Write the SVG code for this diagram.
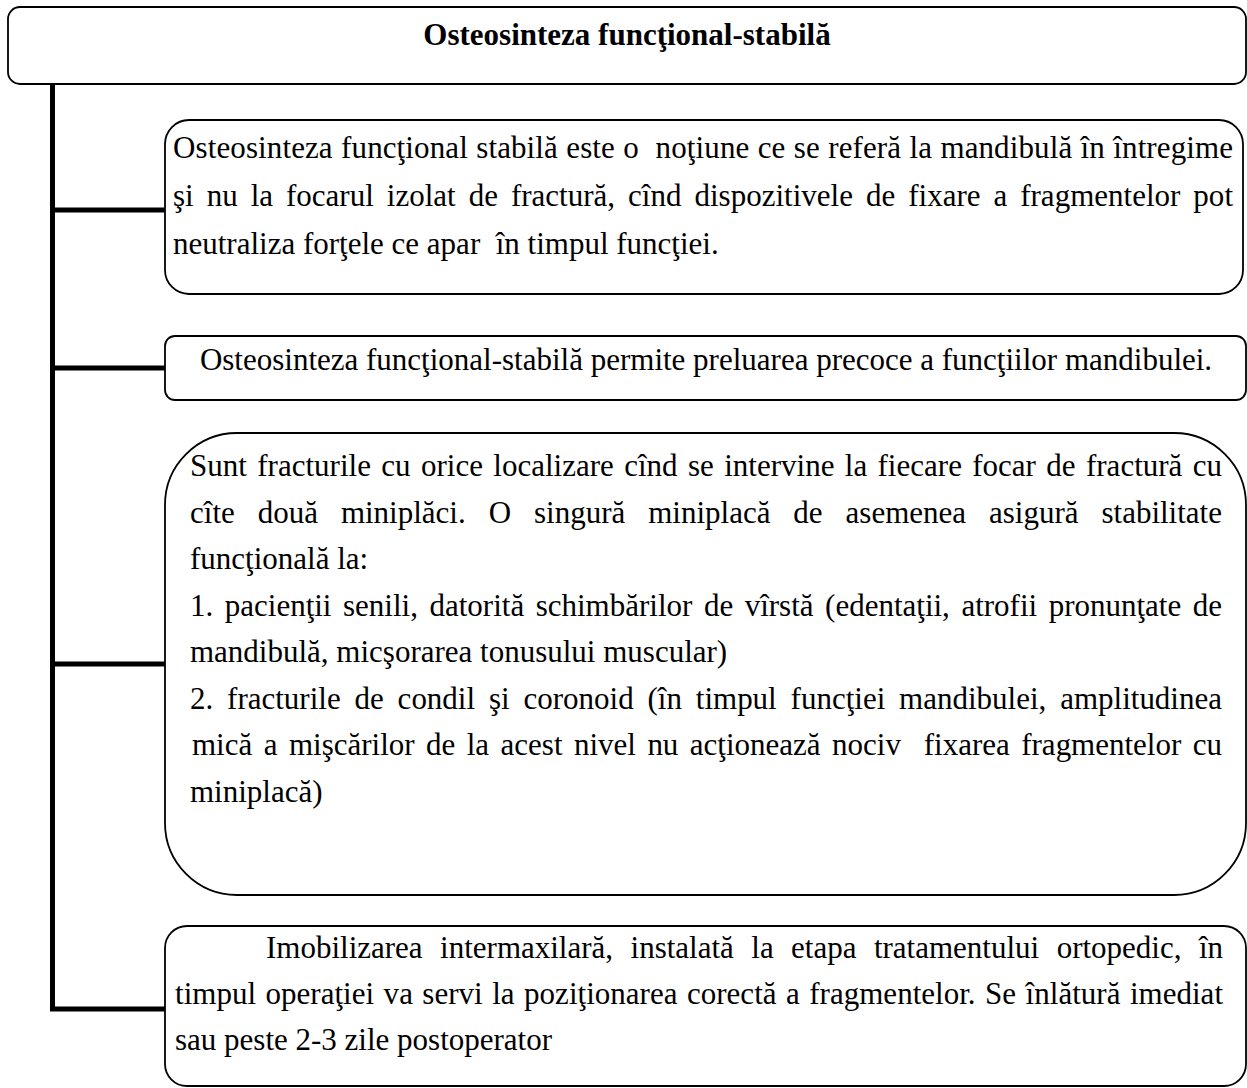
<svg xmlns="http://www.w3.org/2000/svg" width="1247" height="1088" viewBox="0 0 1247 1088">
<style>
.box{fill:#fff;stroke:#000;stroke-width:1.8}
.con{fill:none;stroke:#000;stroke-width:5;stroke-linejoin:miter;stroke-linecap:butt}
text{font-family:"Liberation Serif","Times New Roman",serif;font-size:31px;fill:#000}
.title{font-weight:bold;text-anchor:middle}
</style>
<rect width="1247" height="1088" fill="#fff"/>
<g id="connectors">
<path class="con" d="M52.5 84 V1009 H165"/>
<path class="con" d="M52.5 210 H165"/>
<path class="con" d="M52.5 368 H165"/>
<path class="con" d="M52.5 664 H165"/>
</g>
<g id="title">
<rect class="box" x="8" y="7" width="1238" height="77" rx="12"/>
<text class="title" x="627" y="45">Osteosinteza funcţional-stabilă</text>
</g>
<g id="node1">
<rect class="box" x="165" y="120" width="1078" height="174" rx="24"/>
<text xml:space="preserve" x="173" y="158" textLength="1060" lengthAdjust="spacing" word-spacing="0.5">Osteosinteza funcţional stabilă este o  noţiune ce se referă la mandibulă în întregime</text>
<text xml:space="preserve" x="173" y="206" textLength="1060" lengthAdjust="spacing" word-spacing="5.2">şi nu la focarul izolat de fractură, cînd dispozitivele de fixare a fragmentelor pot</text>
<text xml:space="preserve" x="173" y="254">neutraliza forţele ce apar  în timpul funcţiei.</text>
</g>
<g id="node2">
<rect class="box" x="165" y="336" width="1081" height="64" rx="10"/>
<text x="706" y="370" text-anchor="middle">Osteosinteza funcţional-stabilă permite preluarea precoce a funcţiilor mandibulei.</text>
</g>
<g id="node3">
<rect class="box" x="165" y="433" width="1081" height="462" rx="72"/>
<text xml:space="preserve" x="190" y="476" textLength="1032" lengthAdjust="spacing" word-spacing="2.6">Sunt fracturile cu orice localizare cînd se intervine la fiecare focar de fractură cu</text>
<text xml:space="preserve" x="190" y="522.5" textLength="1032" lengthAdjust="spacing" word-spacing="15.2">cîte două miniplăci. O singură miniplacă de asemenea asigură stabilitate</text>
<text xml:space="preserve" x="190" y="569">funcţională la:</text>
<text xml:space="preserve" x="190" y="615.5" textLength="1032" lengthAdjust="spacing" word-spacing="3.8">1. pacienţii senili, datorită schimbărilor de vîrstă (edentaţii, atrofii pronunţate de</text>
<text xml:space="preserve" x="190" y="662">mandibulă, micşorarea tonusului muscular)</text>
<text xml:space="preserve" x="190" y="708.5" textLength="1032" lengthAdjust="spacing" word-spacing="6.1">2. fracturile de condil şi coronoid (în timpul funcţiei mandibulei, amplitudinea</text>
<text xml:space="preserve" x="192" y="755" textLength="1030" lengthAdjust="spacing" word-spacing="3.7">mică a mişcărilor de la acest nivel nu acţionează nociv  fixarea fragmentelor cu</text>
<text xml:space="preserve" x="190" y="801.5">miniplacă)</text>
</g>
<g id="node4">
<rect class="box" x="165" y="926" width="1081" height="160" rx="22"/>
<text xml:space="preserve" x="266" y="958" textLength="957" lengthAdjust="spacing" word-spacing="9.7">Imobilizarea intermaxilară, instalată la etapa tratamentului ortopedic, în</text>
<text xml:space="preserve" x="175" y="1004" textLength="1048" lengthAdjust="spacing" word-spacing="1.7">timpul operaţiei va servi la poziţionarea corectă a fragmentelor. Se înlătură imediat</text>
<text xml:space="preserve" x="175" y="1050">sau peste 2-3 zile postoperator</text>
</g>
</svg>
